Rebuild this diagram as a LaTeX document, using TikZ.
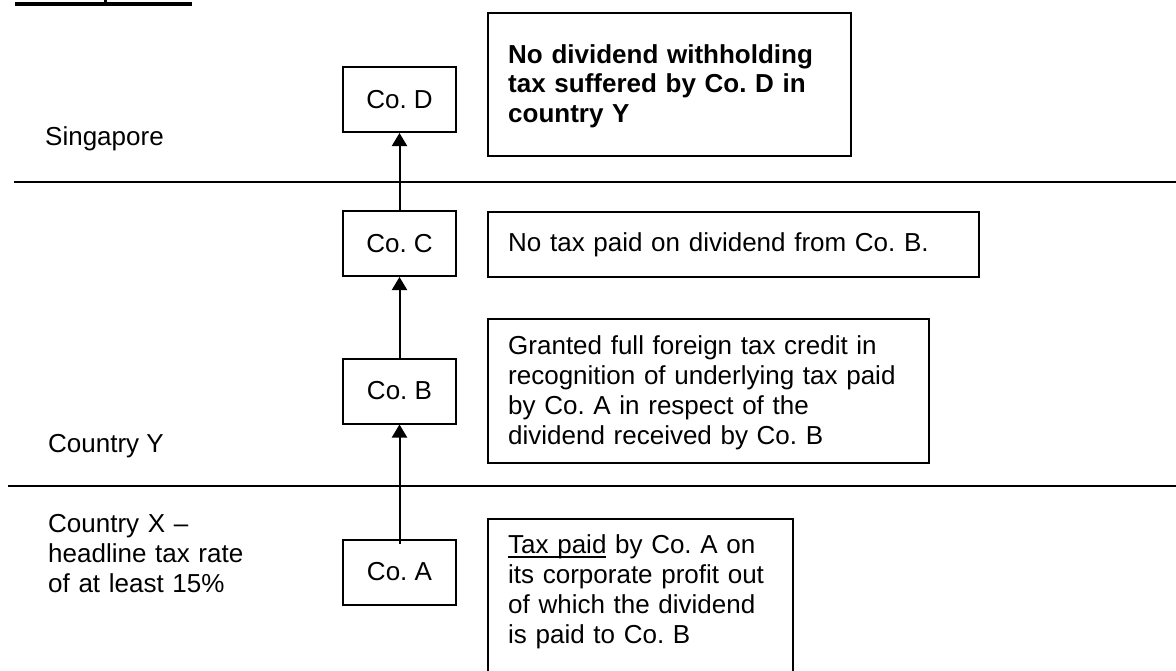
\documentclass[tikz,border=0pt]{standalone}
\usepackage{fontspec}
\setmainfont{Liberation Sans}
\usetikzlibrary{arrows.meta}
\frenchspacing
\newcommand\ulin[1]{\setbox0\hbox{#1}\rlap{\rule[-4.5pt]{\wd0}{1.4pt}}#1}
\begin{document}
\begin{tikzpicture}[x=1pt,y=-1pt,
  every node/.style={font=\fontsize{26}{30}\selectfont},
  cobox/.style={draw,line width=2pt,minimum width=113pt,minimum height=65pt,inner sep=0pt},
  infobox/.style={draw,line width=2pt,inner sep=0pt,anchor=north west},
  txt/.style={anchor=base west,inner sep=0pt,align=left},
  rule/.style={line width=2pt},
  arr/.style={line width=2pt,-{Triangle[width=15pt,length=13pt]}}]
\useasboundingbox (0,0) rectangle (1176,670);
% cut-off heading underline
\fill (15,2.3) rectangle (192,5.7);
\fill (103.5,0) rectangle (106.5,2.3);
% region separators
\draw[rule] (14,182) -- (1176,182);
\draw[rule] (8,486) -- (1176,486);
% region labels
\node[txt] (lsg) at (45,145) {Singapore};
\node[txt] (lcy) at (48,452) {Country Y};
\node[txt,text width=250pt] (lcx) at (48,532) {Country X --\\headline tax rate\\of at least 15\%};
% company boxes
\node[cobox] (D) at (399.5,99.5) {Co. D};
\node[cobox] (C) at (399.5,243.5) {Co. C};
\node[cobox] (B) at (399.5,391) {Co. B};
\node[cobox] (A) at (399.5,572) {Co. A};
% info boxes
\node[infobox,minimum width=363pt,minimum height=143pt] (bD) at (487,12) {};
\node[infobox,minimum width=491pt,minimum height=65pt] (bC) at (487,211) {};
\node[infobox,minimum width=441pt,minimum height=144pt] (bB) at (487,318) {};
\node[infobox,minimum width=305pt,minimum height=170pt] (bA) at (487,518) {};
% info texts
\node[txt,text width=340pt,font=\fontsize{26}{29.5}\selectfont\bfseries] (tD) at (508,63)
  {No dividend withholding\\tax suffered by Co. D in\\country Y};
\node[txt,text width=460pt] (tC) at (508,251) {No tax paid on dividend from Co. B.};
\node[txt,text width=420pt] (tB) at (508,354)
  {Granted full foreign tax credit in\\recognition of underlying tax paid\\by Co. A in respect of the\\dividend received by Co. B};
\node[txt,text width=290pt] (tA) at (508,553)
  {\ulin{Tax paid} by Co. A on\\its corporate profit out\\of which the dividend\\is paid to Co. B};
% connectors
\draw[arr] ([yshift=-5pt]A.north) -- (B.south);
\draw[arr] (B.north) -- (C.south);
\draw[arr] (C.north) -- (D.south);
\end{tikzpicture}
\end{document}
